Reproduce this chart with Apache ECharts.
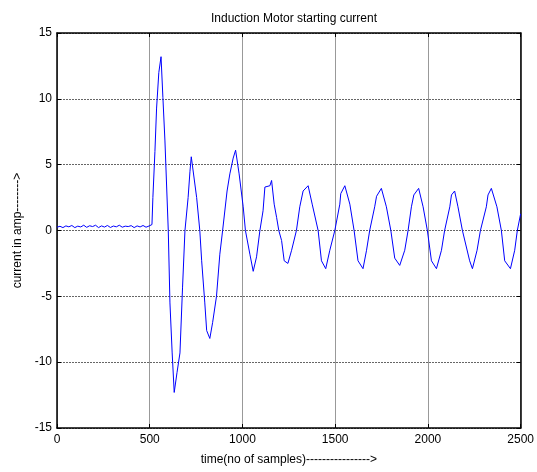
<!DOCTYPE html>
<html>
<head>
<meta charset="utf-8">
<script src="https://cdn.jsdelivr.net/npm/echarts@6/dist/echarts.min.js"></script>
<style>
  html, body { margin: 0; padding: 0; background: #fff; }
  #chart { width: 537px; height: 472px; }
</style>
</head>
<body>
<div id="chart"></div>
<script>
// x: sample index, y: current (A)
const samples = [
  0, 16, 32, 48, 64, 80, 96, 112, 128, 144, 160, 176, 192, 208, 224, 240,
  256, 272, 288, 304, 320, 336, 352, 368, 384, 400, 416, 432, 448, 464, 480, 496, 505, 512,
  517, 528, 537, 549, 561, 571, 582, 600, 609, 621, 632, 647, 663, 677, 690,
  707, 717, 724, 729, 734, 753, 770, 780, 797, 807, 824, 839, 860, 878, 893,
  917, 932, 950, 963, 982, 1004, 1016, 1040, 1058, 1076, 1094, 1111, 1121, 1148,
  1157, 1171, 1184, 1196, 1211, 1225, 1245, 1255, 1265, 1291, 1309, 1327, 1354,
  1376, 1408, 1426, 1449, 1471, 1498, 1525, 1530, 1552, 1579, 1602, 1623, 1650,
  1669, 1686, 1713, 1723, 1749, 1776, 1800, 1821, 1848, 1875, 1893, 1911, 1924,
  1950, 1974, 1997, 2019, 2046, 2073, 2090, 2118, 2127, 2144, 2162, 2186, 2225,
  2240, 2265, 2283, 2315, 2324, 2342, 2372, 2396, 2414, 2445, 2468, 2482, 2500
];
const current = [
  0.25, 0.32, 0.22, 0.35, 0.28, 0.38, 0.22, 0.33, 0.27, 0.40, 0.24, 0.36, 0.30, 0.40, 0.22, 0.35,
  0.26, 0.38, 0.23, 0.34, 0.28, 0.40, 0.25, 0.33, 0.30, 0.37, 0.22, 0.35, 0.27, 0.38, 0.25, 0.34, 0.40, 0.45,
  2.5, 6.0, 9.3, 12.0, 13.2, 10.1, 6.8, 0.0, -5.5, -9.3, -12.3, -10.8, -9.3, -4.3, 0.0,
  2.5, 4.5, 5.6, 5.55, 5.6, 2.5, 0.0, -2.3, -5.5, -7.6, -8.2, -7.0, -5.0, -1.8, 0.0,
  3.0, 4.3, 5.5, 6.1, 4.3, 1.8, 0.0, -1.8, -3.1, -2.0, 0.0, 1.5, 3.3, 3.4,
  3.8, 2.0, 1.0, 0.0, -0.76, -2.3, -2.5, -2.4, -1.5, 0.0, 1.8, 3.0, 3.4,
  2.0, 0.0, -2.3, -2.9, -1.5, 0.0, 2.0, 2.8, 3.4, 2.0, 0.0, -2.3, -2.9,
  -1.5, 0.0, 1.8, 2.6, 3.2, 1.8, 0.0, -2.1, -2.65, -1.5, 0.0, 1.8, 2.7,
  3.2, 1.8, 0.0, -2.3, -2.9, -1.5, 0.0, 1.8, 2.7, 3.0, 1.8, 0.0, -2.3,
  -2.9, -1.5, 0.0, 1.8, 2.7, 3.2, 1.8, 0.0, -2.3, -2.9, -1.5, 0.0, 1.27
];
const xTicks = [0, 500, 1000, 1500, 2000, 2500];
const yTicks = [-15, -10, -5, 0, 5, 10, 15];

const chart = echarts.init(document.getElementById('chart'));
const font = 'Liberation Sans, Arial, sans-serif';

const points = samples.map((s, i) => [s, current[i]]);

const boxAxis = {
  type: 'value',
  axisLine: { show: true, onZero: false, lineStyle: { color: '#000', width: 1.5 } },
  axisTick: { show: true, inside: true, length: 4, lineStyle: { color: '#000' } },
  axisLabel: { show: false },
  splitLine: { show: false }
};

const option = {
  animation: false,
  backgroundColor: '#fff',
  title: {
    text: 'Induction Motor starting current',
    left: 289,
    top: 8,
    textAlign: 'center',
    textStyle: { fontFamily: font, fontSize: 12, fontWeight: 'normal', color: '#000' }
  },
  grid: { left: 57, right: 16, top: 33, bottom: 44 },
  xAxis: [
    {
      type: 'value',
      min: xTicks[0],
      max: xTicks[xTicks.length - 1],
      interval: 500,
      name: 'time(no of samples)---------------->',
      nameLocation: 'middle',
      nameGap: 26,
      nameTextStyle: { fontFamily: font, fontSize: 12, color: '#000' },
      axisLine: { onZero: false, lineStyle: { color: '#000', width: 1.5 } },
      axisTick: { inside: true, length: 4, lineStyle: { color: '#000' } },
      axisLabel: { fontFamily: font, fontSize: 12, color: '#000', margin: 6, formatter: v => String(v) },
      splitLine: { show: true, lineStyle: { color: '#999', width: 1 } }
    },
    Object.assign({}, boxAxis, { position: 'top', min: 0, max: 2500, interval: 500 })
  ],
  yAxis: [
    {
      type: 'value',
      min: yTicks[0],
      max: yTicks[yTicks.length - 1],
      interval: 5,
      name: 'current in amp-------->',
      nameLocation: 'middle',
      nameGap: 32,
      nameTextStyle: { fontFamily: font, fontSize: 12, color: '#000' },
      axisLine: { show: true, onZero: false, lineStyle: { color: '#000', width: 1.5 } },
      axisTick: { show: true, inside: true, length: 4, lineStyle: { color: '#000' } },
      axisLabel: { fontFamily: font, fontSize: 12, color: '#000', margin: 5 },
      splitLine: { show: true, lineStyle: { color: '#666', width: 1, type: [2, 1] } }
    },
    Object.assign({}, boxAxis, { position: 'right', min: -15, max: 15, interval: 5 })
  ],
  series: [
    {
      name: 'current',
      type: 'line',
      data: points,
      symbol: 'none',
      smooth: false,
      lineStyle: { color: '#0000ff', width: 1 }
    }
  ]
};

chart.setOption(option);
</script>
</body>
</html>
